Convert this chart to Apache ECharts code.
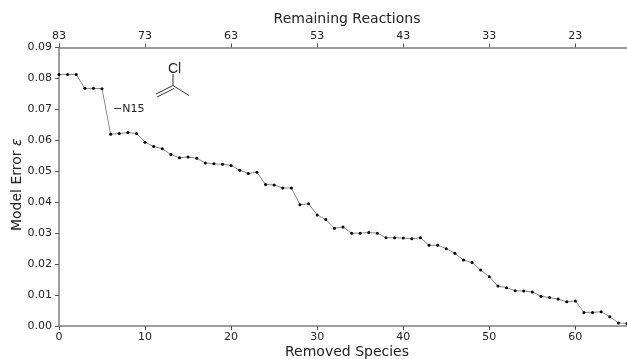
<!DOCTYPE html>
<html>
<head>
<meta charset="utf-8">
<style>
  html, body { margin: 0; padding: 0; background: #fff; }
  #chart { width: 627px; height: 359px; }
</style>
<script src="https://cdn.jsdelivr.net/npm/echarts@6/dist/echarts.min.js"></script>
</head>
<body>
<div id="chart"></div>
<script>
const removedSpecies = [0,1,2,3,4,5,6,7,8,9,10,11,12,13,14,15,16,17,18,19,20,21,22,23,24,25,26,27,28,29,30,31,32,33,
  34,35,36,37,38,39,40,41,42,43,44,45,46,47,48,49,50,51,52,53,54,55,56,57,58,59,60,61,62,63,64,65,66];
const modelError = [.0813,.0813,.0813,.0768,.0768,.0767,.0620,.0622,.0625,.0622,.0594,.0580,.0573,.0554,.0544,.0546,.0542,
  .0527,.0524,.0523,.0519,.0503,.0493,.0497,.0457,.0456,.0446,.0446,.0392,.0395,.0359,.0344,.0316,.0320,
  .0300,.0300,.0302,.0300,.0285,.0285,.0284,.0282,.0285,.0261,.0261,.0250,.0235,.0213,.0205,.0181,.0159,
  .0129,.0124,.0114,.0113,.0110,.0096,.0092,.0087,.0078,.0081,.0044,.0044,.0046,.0030,.0010,.0008];
const xTicks = [0,10,20,30,40,50,60];
const totalReactions = 83;

const font = 'DejaVu Sans';
const chart = echarts.init(document.getElementById('chart'), null, { renderer: 'canvas' });

const xLine = { show: true, onZero: false, lineStyle: { color: '#7f7f7f', width: 1.5 } };
const tick = { show: true, length: 4, lineStyle: { color: '#555', width: 1 }, customValues: xTicks };

chart.setOption({
  animation: false,
  backgroundColor: '#fff',
  grid: { left: 59, right: 0, top: 47.5, bottom: 33, outerBoundsMode: 'none' },
  xAxis: [
    {
      type: 'value', position: 'bottom', min: 0, max: 66,
      name: 'Removed Species', nameLocation: 'middle', nameGap: 19, nameMoveOverlap: false,
      nameTextStyle: { fontFamily: font, fontSize: 14, color: '#222', padding: [0, 0, 0, 8] },
      axisLine: xLine, axisTick: tick, splitLine: { show: false },
      axisLabel: { fontFamily: font, fontSize: 11, color: '#222', margin: 6, customValues: xTicks }
    },
    {
      type: 'value', position: 'top', min: 0, max: 66,
      name: 'Remaining Reactions', nameLocation: 'middle', nameGap: 21, nameMoveOverlap: false,
      nameTextStyle: { fontFamily: font, fontSize: 14, color: '#222', padding: [0, 0, 0, 8] },
      axisLine: xLine, axisTick: tick, splitLine: { show: false },
      axisLabel: { fontFamily: font, fontSize: 11, color: '#222', margin: 6, customValues: xTicks,
        formatter: v => String(totalReactions - v) }
    }
  ],
  yAxis: {
    type: 'value', min: 0, max: 0.09, interval: 0.01,
    name: 'Model Error {e|ε}', nameLocation: 'middle', nameGap: 35, nameMoveOverlap: false,
    nameTextStyle: { fontFamily: font, fontSize: 14, color: '#222', padding: [0, 0, 0, 4],
      rich: { e: { fontFamily: font, fontSize: 14, fontStyle: 'italic', color: '#222' } } },
    axisLine: { show: true, lineStyle: { color: '#7f7f7f', width: 1.5 } },
    axisTick: { show: true, length: 4, lineStyle: { color: '#555', width: 1 } },
    splitLine: { show: false },
    axisLabel: { fontFamily: font, fontSize: 11, color: '#222', margin: 7, formatter: v => v.toFixed(2) }
  },
  series: [{
    type: 'line',
    data: removedSpecies.map((x, i) => [x, modelError[i]]),
    symbol: 'circle', symbolSize: 3, clip: true,
    lineStyle: { color: '#8a8a8a', width: 1 },
    itemStyle: { color: '#000' }
  }],
  graphic: [
    { type: 'text', left: 113, top: 104, style: { text: '−N15', fontFamily: font, fontSize: 11, fill: '#222' } },
    { type: 'text', left: 168, top: 62, style: { text: 'Cl', fontFamily: 'Liberation Sans', fontSize: 14, fill: '#222' } },
    { type: 'polyline', shape: { points: [[173, 74], [173, 85.5], [189, 95.5]] }, style: { stroke: '#333', lineWidth: 1, fill: null } },
    { type: 'line', shape: { x1: 173, y1: 85.5, x2: 156, y2: 94 }, style: { stroke: '#333', lineWidth: 1 } },
    { type: 'line', shape: { x1: 174, y1: 88.5, x2: 157, y2: 97 }, style: { stroke: '#333', lineWidth: 1 } }
  ]
});
</script>
</body>
</html>
